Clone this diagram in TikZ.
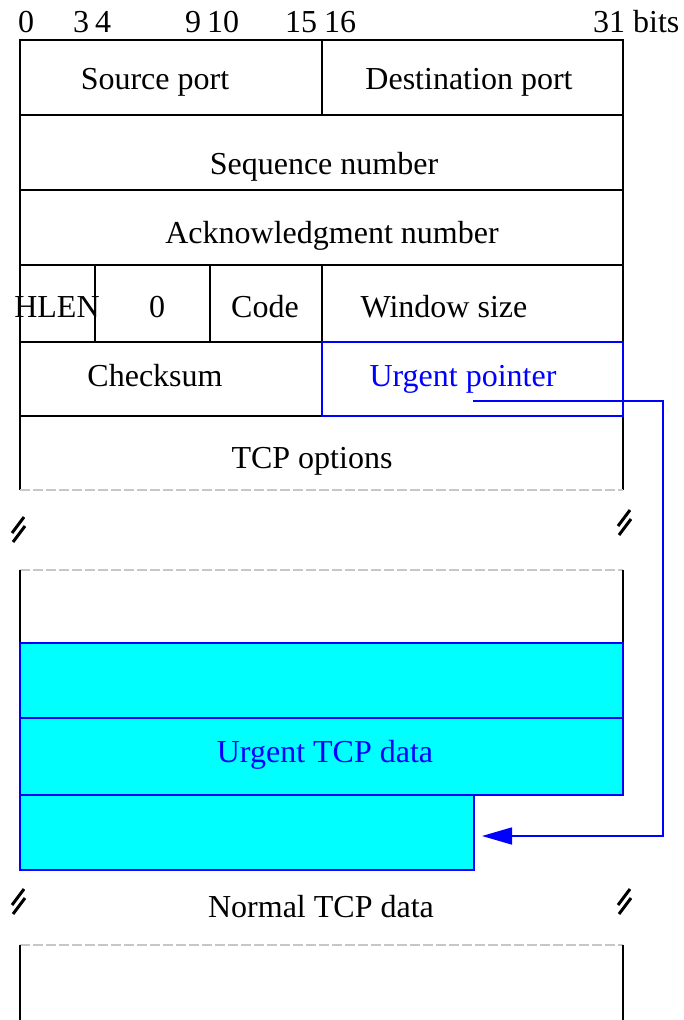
\documentclass[tikz,border=0pt]{standalone}
\usepackage{fontspec}
\setmainfont{Liberation Serif}
\usetikzlibrary{arrows.meta}
\definecolor{cyanfill}{RGB}{0,255,255}
\definecolor{pureblue}{RGB}{0,0,255}
\begin{document}
\begin{tikzpicture}[x=1pt,y=-1pt,line join=miter,
  frame/.style={line width=1.8pt,black},
  bluel/.style={line width=1.8pt,pureblue},
  greyl/.style={line width=1.2pt,black!22,dash pattern=on 10pt off 3pt},
  cyanbox/.style={line width=1.8pt,draw=pureblue,fill=cyanfill},
  lbl/.style={anchor=base,font=\fontsize{32}{38}\selectfont,inner sep=0pt},
  hdr/.style={anchor=base west,font=\fontsize{32}{38}\selectfont,inner sep=0pt},
  ptr/.style={line width=1.6pt,pureblue,-{Triangle[length=30pt,width=17pt]}},
  pics/brk/.style={code={
    \draw[line width=3pt,black] (0,0) -- (12,-16);
    \draw[line width=3pt,black] (1,9) -- (13,-7);
  }}]
\useasboundingbox (0,0) rectangle (684,1020);
% header bit numbers
\node[hdr] (b0) at (18,32) {0};
\node[hdr] (b3) at (73,32) {3};
\node[hdr] (b4) at (95,32) {4};
\node[hdr] (b9) at (185,32) {9};
\node[hdr] (b10) at (207,32) {10};
\node[hdr] (b15) at (285,32) {15};
\node[hdr] (b16) at (324,32) {16};
\node[hdr] (b31) at (593,32) {31 bits};
% header block
\draw[frame] (20,490) -- (20,40) -- (623,40) -- (623,342);
\draw[frame] (623,416) -- (623,490);
\draw[frame] (20,115) -- (623,115);
\draw[frame] (20,190) -- (623,190);
\draw[frame] (20,265) -- (623,265);
\draw[frame] (20,342) -- (322,342);
\draw[frame] (20,416) -- (322,416);
\draw[frame] (322,40) -- (322,115);
\draw[frame] (322,265) -- (322,342);
\draw[frame] (95,265) -- (95,342);
\draw[frame] (210,265) -- (210,342);
\draw[bluel] (322,342) rectangle (623,416);
\draw[greyl] (20,490) -- (623,490);
% texts of header
\node[lbl] (src) at (155,89) {Source port};
\node[lbl] (dst) at (469,89) {Destination port};
\node[lbl] (seq) at (324,174) {Sequence number};
\node[lbl] (ack) at (332,243) {Acknowledgment number};
\node[lbl] (hlen) at (57,317) {HLEN};
\node[lbl] (zero) at (157,317) {0};
\node[lbl] (code) at (265,317) {Code};
\node[lbl] (win) at (444,317) {Window size};
\node[lbl] (chk) at (155,386) {Checksum};
\node[lbl,text=pureblue] (urg) at (463,386) {Urgent pointer};
\node[lbl] (opt) at (312,468) {TCP options};
% break marks
\pic at (12,533) {brk};
\pic at (618,526) {brk};
% data block
\draw[greyl] (20,570) -- (623,570);
\draw[frame] (20,570) -- (20,643);
\draw[frame] (623,570) -- (623,643);
\draw[cyanbox] (20,643) rectangle (623,718);
\draw[cyanbox] (20,718) rectangle (623,795);
\draw[cyanbox] (20,795) rectangle (474,870);
\node[lbl,text=pureblue] (udata) at (325,762) {Urgent TCP data};
% second break
\pic at (12,905) {brk};
\pic at (618,905) {brk};
\node[lbl] (ndata) at (321,917) {Normal TCP data};
\draw[greyl] (20,945) -- (623,945);
\draw[frame] (20,945) -- (20,1021);
\draw[frame] (623,945) -- (623,1021);
% urgent pointer arrow
\coordinate (pstart) at (473,401);
\coordinate (pturn1) at (663,401);
\coordinate (pturn2) at (663,836);
\coordinate (pend) at (482,836);
\draw[ptr] (pstart) -- (pturn1) -- (pturn2) -- (pend);
\end{tikzpicture}
\end{document}
